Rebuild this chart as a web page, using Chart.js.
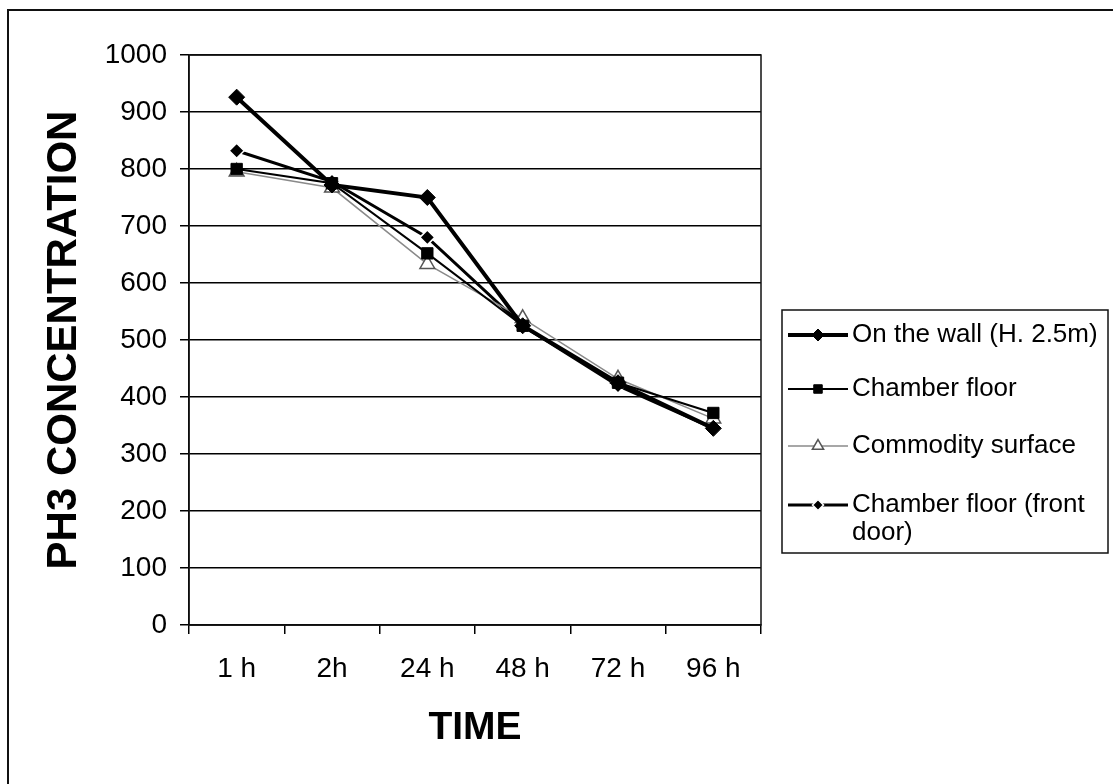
<!DOCTYPE html>
<html>
<head>
<meta charset="utf-8">
<script src="https://cdn.jsdelivr.net/npm/chart.js@4.4.1/dist/chart.umd.min.js"></script>
<style>
  html, body { margin: 0; padding: 0; background: #fff; overflow: hidden; }
  #wrap { position: relative; width: 1113px; height: 784px; }
</style>
</head>
<body>
<div id="wrap"><canvas id="ph3Chart" width="1113" height="784"></canvas></div>
<script>
// categories + series
const timeLabels = ['1 h', '2h', '24 h', '48 h', '72 h', '96 h'];
const seriesNames = ['On the wall (H. 2.5m)', 'Chamber floor', 'Commodity surface', 'Chamber floor (front door)'];
const onTheWall = [926, 772, 750, 525, 425, 345];
const chamberFloor = [800, 775, 652, 525, 425, 372];
const commoditySurface = [795, 767, 633, 538, 432, 362];
const frontDoor = [832, 778, 680, 525, 420, 345];

const FONT = "'Liberation Sans', Arial, sans-serif";

// legend box + plot frame + outer frame, drawn after the chart
const decoPlugin = {
    id: 'deco',
    afterDraw(chart) {
        const ctx = chart.ctx;
        const area = chart.chartArea;
        ctx.save();

        // outer frame (only left/top edges are inside the picture)
        ctx.strokeStyle = '#111';
        ctx.lineWidth = 2;
        ctx.strokeRect(8, 10, 1200, 900);

        // plot box
        ctx.lineWidth = 1.5;
        ctx.strokeRect(area.left, area.top, area.right - area.left, area.bottom - area.top);

        // legend
        const box = {x: 782, y: 310, w: 326, h: 243};
        ctx.fillStyle = '#fff';
        ctx.fillRect(box.x, box.y, box.w, box.h);
        ctx.lineWidth = 1.5;
        ctx.strokeStyle = '#111';
        ctx.strokeRect(box.x, box.y, box.w, box.h);

        ctx.font = '26px ' + FONT;
        ctx.textBaseline = 'middle';
        const rowY = [335, 389, 446, 505];
        const textX = 852;
        const maxW = box.x + box.w - textX - 2;
        chart.data.datasets.forEach((ds, i) => {
            const y = rowY[i];
            ctx.strokeStyle = ds.borderColor;
            ctx.lineWidth = ds.borderWidth;
            ctx.beginPath();
            ctx.moveTo(788, y);
            ctx.lineTo(848, y);
            ctx.stroke();
            ctx.fillStyle = ds.pointBackgroundColor;
            ctx.strokeStyle = ds.pointBorderColor;
            ctx.lineWidth = ds.pointBorderWidth;
            Chart.helpers.drawPoint(ctx, {pointStyle: ds.pointStyle, radius: ds.pointRadius - 2, borderWidth: ds.pointBorderWidth}, 818, y);

            // wrap long labels
            const words = ds.label.split(' ');
            let lines = [], cur = '';
            words.forEach(w => {
                const t = cur ? cur + ' ' + w : w;
                if (ctx.measureText(t).width > maxW && cur) { lines.push(cur); cur = w; }
                else cur = t;
            });
            lines.push(cur);
            ctx.fillStyle = '#000';
            lines.forEach((ln, k) => ctx.fillText(ln, textX, y + k * 28));
        });
        ctx.restore();
    }
};

const ctx = document.getElementById('ph3Chart').getContext('2d');
new Chart(ctx, {
    type: 'line',
    data: {
        labels: timeLabels,
        datasets: [
            {
                label: seriesNames[0],
                data: onTheWall,
                borderColor: '#000',
                borderWidth: 4,
                pointStyle: 'rectRot',
                pointRadius: 8,
                pointBackgroundColor: '#000',
                pointBorderColor: '#000',
                pointBorderWidth: 1
            },
            {
                label: seriesNames[1],
                data: chamberFloor,
                borderColor: '#000',
                borderWidth: 2,
                pointStyle: 'rect',
                pointRadius: 8,
                pointBackgroundColor: '#000',
                pointBorderColor: '#000',
                pointBorderWidth: 1
            },
            {
                label: seriesNames[2],
                data: commoditySurface,
                borderColor: '#8a8a8a',
                borderWidth: 1.5,
                pointStyle: 'triangle',
                pointRadius: 8.5,
                pointBackgroundColor: '#fff',
                pointBorderColor: '#555',
                pointBorderWidth: 1.5
            },
            {
                label: seriesNames[3],
                data: frontDoor,
                borderColor: '#000',
                borderWidth: 3,
                pointStyle: 'rectRot',
                pointRadius: 7.5,
                pointBackgroundColor: '#000',
                pointBorderColor: '#fff',
                pointBorderWidth: 1.5
            }
        ]
    },
    options: {
        responsive: false,
        animation: false,
        layout: { padding: { left: 10, top: 55, right: 352, bottom: 0 } },
        elements: { line: { tension: 0 } },
        plugins: {
            legend: { display: false },
            title: { display: false },
            tooltip: { enabled: false }
        },
        scales: {
            x: {
                offset: true,
                grid: { offset: true, drawOnChartArea: false, color: '#000', lineWidth: 1.5, tickLength: 9 },
                border: { color: '#000', width: 1.5 },
                ticks: { color: '#000', font: { family: FONT, size: 28 }, padding: 18, maxRotation: 0 },
                title: { display: true, text: 'TIME', color: '#000', font: { family: FONT, size: 39, weight: 'bold' }, padding: { top: 0, bottom: 32 } },
                afterFit: scale => { scale.height = 159; }
            },
            y: {
                min: 0,
                max: 1000,
                ticks: { stepSize: 100, color: '#000', font: { family: FONT, size: 28 }, padding: 13, callback: v => String(v) },
                grid: { color: '#000', lineWidth: 1.5, tickLength: 9 },
                border: { color: '#000', width: 1.5 },
                title: { display: true, text: 'PH3 CONCENTRATION', color: '#000', font: { family: FONT, size: 42, weight: 'bold' }, padding: { top: 29, bottom: 0 } },
                afterFit: scale => { scale.width = 179; }
            }
        }
    },
    plugins: [decoPlugin]
});
</script>
</body>
</html>
